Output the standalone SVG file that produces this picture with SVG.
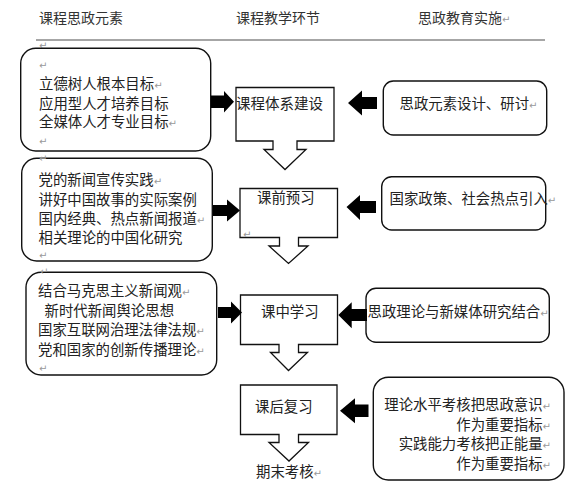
<svg xmlns="http://www.w3.org/2000/svg" width="581" height="500" viewBox="0 0 581 500">
<style>
text{font-family:"Liberation Serif","Noto Sans CJK SC",serif;font-size:14.4px;fill:#222}
.h{font-size:14px;fill:#333}
.r{font-size:10px;fill:#999;font-family:"DejaVu Sans",sans-serif}
.box{fill:#fff;stroke:#111;stroke-width:1.4}
.co{fill:#fff;stroke:#111;stroke-width:1.3}
.ar{fill:#000}
</style>
<rect width="581" height="500" fill="#fff"/>
<g id="header">
<text class="h" x="39" y="23">课程思政元素</text>
<text class="h" x="236" y="23">课程教学环节</text>
<text class="h" x="418" y="23">思政教育实施<tspan class="r">↵</tspan></text>
<line x1="36" y1="40" x2="545" y2="40" stroke="#888" stroke-width="1.5"/>
<text class="r" x="39" y="49">↵</text>
</g>
<g id="elements1">
<rect class="box" x="20.7" y="48.3" width="190" height="102.7" rx="15"/>
<text class="r" x="39" y="69">↵</text>
<text x="39" y="88.5">立德树人根本目标<tspan class="r">↵</tspan></text>
<text x="39" y="108.5">应用型人才培养目标</text>
<text x="39" y="127">全媒体人才专业目标<tspan class="r">↵</tspan></text>
<text class="r" x="39" y="145">↵</text>
</g>
<g id="elements2">
<rect class="box" x="21.7" y="158.3" width="190.6" height="102.7" rx="15"/>
<text class="r" x="39" y="162">↵</text>
<text x="38.5" y="185">党的新闻宣传实践<tspan class="r">↵</tspan></text>
<text x="38.5" y="204.5">讲好中国故事的实际案例</text>
<text x="38.5" y="223.5">国内经典、热点新闻报道<tspan class="r">↵</tspan></text>
<text x="38.5" y="242.5">相关理论的中国化研究</text>
<text class="r" x="39" y="259">↵</text>
</g>
<g id="elements3">
<rect class="box" x="26" y="272.3" width="190.7" height="102.7" rx="15"/>
<text class="r" x="40" y="275">↵</text>
<text x="38" y="296">结合马克思主义新闻观<tspan class="r">↵</tspan></text>
<text x="44.5" y="316">新时代新闻舆论思想</text>
<text x="38" y="335">国家互联网治理法律法规<tspan class="r">↵</tspan></text>
<text x="38" y="355">党和国家的创新传播理论<tspan class="r">↵</tspan></text>
<text class="r" x="39" y="372">↵</text>
</g>
<g id="step1">
<path class="co" d="M236,87.5 H334 V141 H297 V149.5 H306 L285,169.5 L264,149.5 H273 V141 H236 Z"/>
<text x="236" y="108.5" style="font-size:14.5px">课程体系建设</text>
</g>
<g id="step2">
<path class="co" d="M240,188.5 H337.5 V237.5 H298.5 V246 H308 L288.5,263.5 L269,246 H279.5 V237.5 H240 Z"/>
<text x="257" y="203">课前预习</text>
<text class="r" x="243" y="238">↵</text>
</g>
<g id="step3">
<path class="co" d="M240.5,295 H337.5 V344.5 H298.5 V352.5 H307.5 L288.5,370.5 L270.5,352.5 H279 V344.5 H240.5 Z"/>
<text x="261" y="317">课中学习</text>
</g>
<g id="step4">
<path class="co" d="M240.5,385 H337 V434.5 H298.5 V442.5 H308.5 L289,461 L269,442.5 H279 V434.5 H240.5 Z"/>
<text x="255" y="412">课后复习</text>
</g>
<g id="final">
<text x="256" y="477">期末考核<tspan class="r">↵</tspan></text>
</g>
<g id="impl1">
<rect class="box" x="383.3" y="81" width="163.4" height="54" rx="10"/>
<text x="399.5" y="108.5">思政元素设计、研讨<tspan class="r">↵</tspan></text>
</g>
<g id="impl2">
<rect class="box" x="381.7" y="176.7" width="164" height="53.3" rx="10"/>
<text x="389.5" y="203.5">国家政策、社会热点引入<tspan class="r">↵</tspan></text>
</g>
<g id="impl3">
<rect class="box" x="366" y="288.3" width="183.3" height="54" rx="10"/>
<text x="367.5" y="317">思政理论与新媒体研究结合<tspan class="r">↵</tspan></text>
</g>
<g id="impl4">
<rect class="box" x="373.3" y="377.3" width="190.7" height="102.7" rx="15"/>
<text x="551" y="410" text-anchor="end">理论水平考核把思政意识<tspan class="r">↵</tspan></text>
<text x="551" y="430" text-anchor="end">作为重要指标<tspan class="r">↵</tspan></text>
<text x="551" y="449" text-anchor="end">实践能力考核把正能量<tspan class="r">↵</tspan></text>
<text x="551" y="468.5" text-anchor="end">作为重要指标<tspan class="r">↵</tspan></text>
</g>
<g id="connectors">
<polygon class="ar" points="211,95.5 224,95.5 224,91 234,101.7 224,112.5 224,108 211,108"/>
<polygon class="ar" points="213,205 227,205 227,199.5 240,210.5 227,221.5 227,216 213,216"/>
<polygon class="ar" points="218,307 231,307 231,301.5 242,312.5 231,323.5 231,318 218,318"/>
<polygon class="ar" points="348,103 362,90.5 362,97 377,97 377,109 362,109 362,115.5"/>
<polygon class="ar" points="346.5,207 360,195 360,201 376,201 376,213 360,213 360,220"/>
<polygon class="ar" points="338.3,315 351.7,302.3 351.7,309 367,309 367,321 351.7,321 351.7,328.3"/>
<polygon class="ar" points="340,410.7 355,398.3 355,404.5 368.5,404.5 368.5,417 355,417 355,423.3"/>
</g>
</svg>
